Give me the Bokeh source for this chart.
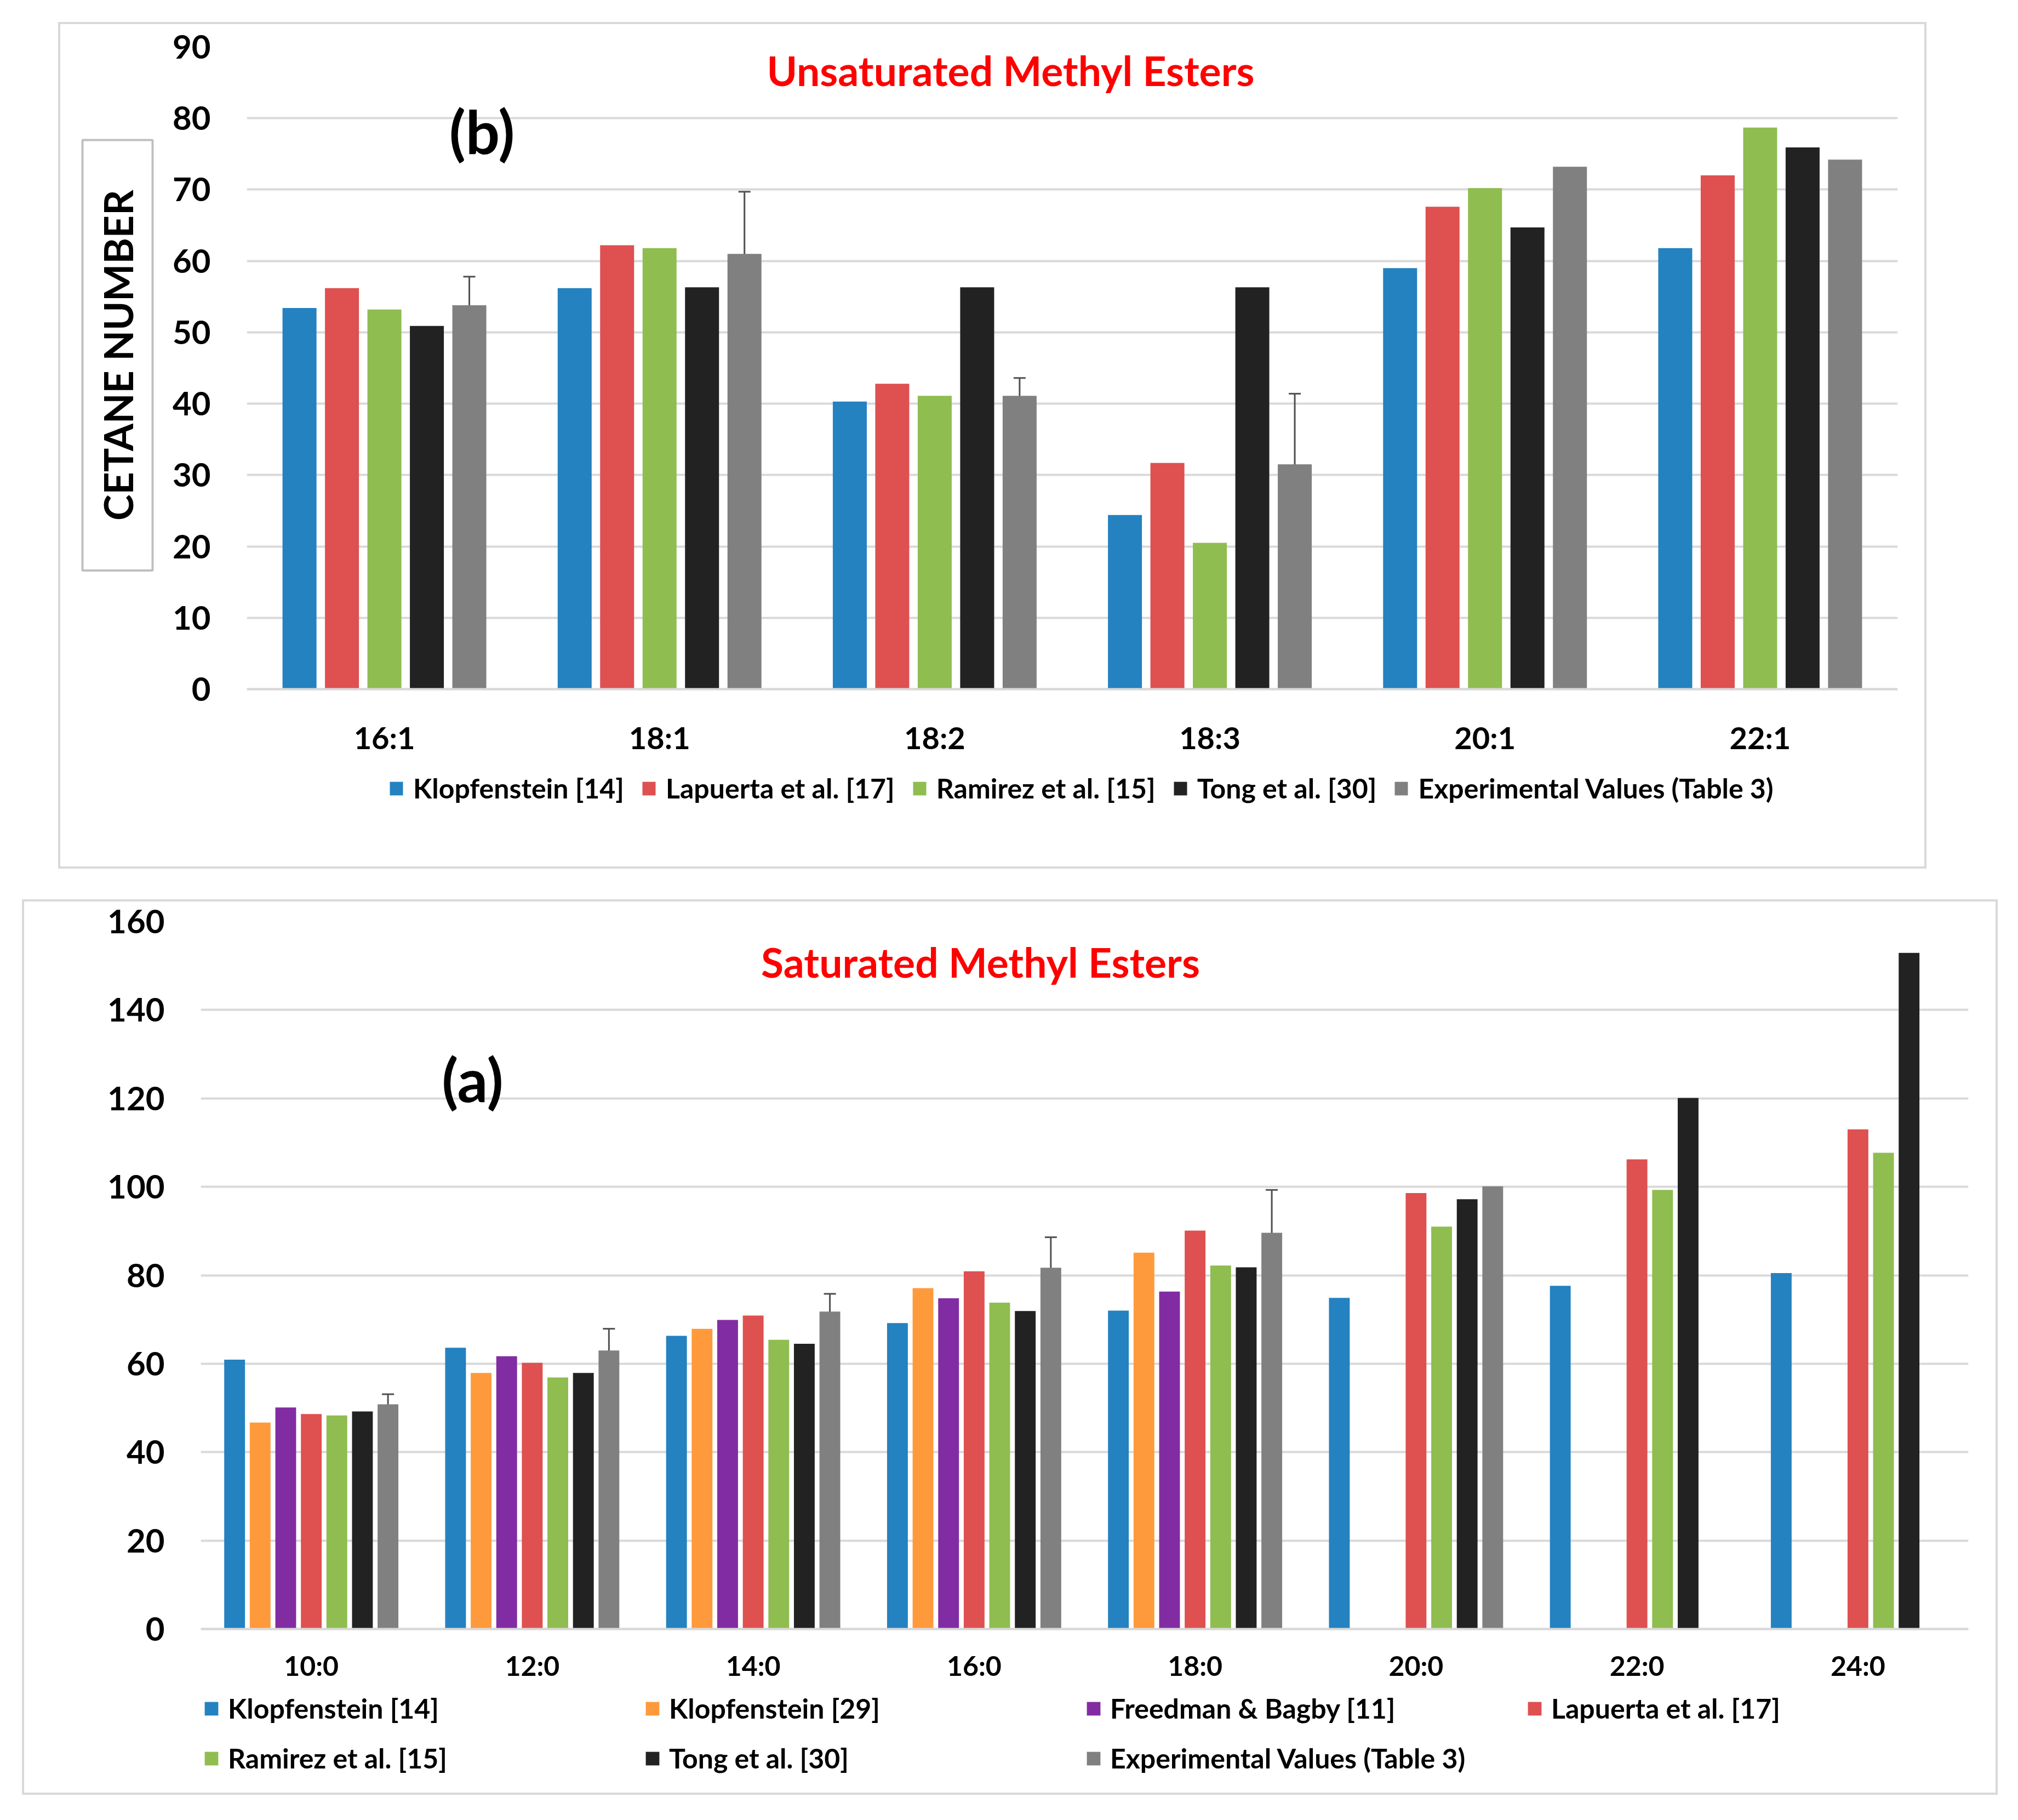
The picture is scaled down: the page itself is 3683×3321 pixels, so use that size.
import math
from bokeh.plotting import figure
from bokeh.models import (FactorRange, Range1d, ColumnDataSource, Whisker, TeeHead,
                          Label, Legend, LegendItem, FixedTicker, Title)
from bokeh.transform import dodge
from bokeh.embed import file_html
from bokeh.resources import INLINE

NaN = float("nan")

# ---------------- data: unsaturated methyl esters (b) ----------------
unsat_categories = ["16:1", "18:1", "18:2", "18:3", "20:1", "22:1"]
unsat_klopfenstein14 = [53.4, 56.2, 40.3, 24.4, 59.0, 61.8]
unsat_lapuerta17 = [56.2, 62.2, 42.8, 31.7, 67.6, 72.0]
unsat_ramirez15 = [53.2, 61.8, 41.1, 20.5, 70.2, 78.7]
unsat_tong30 = [50.9, 56.3, 56.3, 56.3, 64.7, 75.9]
unsat_experimental = [53.8, 61.0, 41.1, 31.5, 73.2, 74.2]
unsat_exp_error = [4.0, 8.7, 2.5, 9.9, NaN, NaN]
unsat_yticks = [0, 10, 20, 30, 40, 50, 60, 70, 80, 90]

# ---------------- data: saturated methyl esters (a) ----------------
sat_categories = ["10:0", "12:0", "14:0", "16:0", "18:0", "20:0", "22:0", "24:0"]
sat_klopfenstein14 = [60.9, 63.6, 66.3, 69.2, 72.0, 74.9, 77.6, 80.5]
sat_klopfenstein29 = [46.7, 57.9, 67.9, 77.1, 85.1, NaN, NaN, NaN]
sat_freedman11 = [50.1, 61.7, 69.9, 74.8, 76.3, NaN, NaN, NaN]
sat_lapuerta17 = [48.6, 60.2, 70.9, 80.9, 90.1, 98.6, 106.2, 113.0]
sat_ramirez15 = [48.3, 56.9, 65.4, 73.8, 82.2, 91.0, 99.3, 107.7]
sat_tong30 = [49.2, 57.9, 64.5, 71.9, 81.8, 97.2, 120.1, 152.9]
sat_experimental = [50.8, 63.0, 71.8, 81.7, 89.6, 100.1, NaN, NaN]
sat_exp_error = [2.3, 4.9, 4.0, 6.9, 9.7, NaN, NaN, NaN]
sat_yticks = [0, 20, 40, 60, 80, 100, 120, 140, 160]

C_BLUE = "#2482c0"
C_ORANGE = "#ff9a3c"
C_PURPLE = "#822ca3"
C_RED = "#df5050"
C_GREEN = "#8fbd50"
C_BLACK = "#222222"
C_GRAY = "#808080"
GRID = "#d9d9d9"
FONT = "Lato"


def base_fig(cats, ymin, ymax, yticks, w, h, mb, xlabel_size, xstandoff):
    p = figure(x_range=FactorRange(*cats, range_padding=0), y_range=Range1d(ymin, ymax),
               width=w, height=h, output_backend="svg", toolbar_location=None,
               min_border_left=mb[0], min_border_right=mb[1], min_border_top=mb[2],
               min_border_bottom=mb[3])
    p.outline_line_color = None
    p.background_fill_color = "white"
    p.border_fill_color = "white"
    p.xgrid.grid_line_color = None
    p.ygrid.grid_line_color = GRID
    p.ygrid.grid_line_width = 4
    p.yaxis.ticker = FixedTicker(ticks=yticks)
    p.yaxis.axis_line_color = None
    p.yaxis.major_tick_line_color = None
    p.yaxis.minor_tick_line_color = None
    p.yaxis.major_label_text_font = FONT
    p.yaxis.major_label_text_font_style = "bold"
    p.yaxis.major_label_text_font_size = "60px"
    p.yaxis.major_label_text_color = "black"
    p.yaxis.major_label_standoff = 60
    # category axis sits on the zero line, inside the frame
    p.xaxis.fixed_location = 0
    p.xaxis.axis_line_color = GRID
    p.xaxis.axis_line_width = 4
    p.xaxis.major_tick_line_color = None
    p.xaxis.minor_tick_line_color = None
    p.xaxis.major_label_text_font = FONT
    p.xaxis.major_label_text_font_style = "bold"
    p.xaxis.major_label_text_font_size = xlabel_size
    p.xaxis.major_label_text_color = "black"
    p.xaxis.major_label_standoff = xstandoff
    return p


def add_bars(p, cats, series, step, width):
    data = {"cat": cats}
    for i, (name, vals, color) in enumerate(series):
        data["s%d" % i] = vals
    src = ColumnDataSource(data)
    n = len(series)
    items = []
    for i, (name, vals, color) in enumerate(series):
        off = (i - (n - 1) / 2.0) * step
        r = p.vbar(x=dodge("cat", off, range=p.x_range), top="s%d" % i, bottom=0,
                   width=width, source=src, fill_color=color, line_color=None)
        items.append(LegendItem(label=name, renderers=[r]))
    return items


def add_errors(p, cats, vals, errs, off):
    idx = [i for i in range(len(cats)) if not math.isnan(errs[i])]
    src = ColumnDataSource({
        "cat": [cats[i] for i in idx],
        "upper": [vals[i] + errs[i] for i in idx],
        "lower": [vals[i] - errs[i] for i in idx],
    })
    w = Whisker(base=dodge("cat", off, range=p.x_range), upper="upper", lower="lower",
                source=src, dimension="height", line_color="#505050", line_width=3,
                upper_head=TeeHead(size=22, line_color="#505050", line_width=3),
                lower_head=TeeHead(size=22, line_color="#505050", line_width=3))
    p.add_layout(w)


def text_label(p, x, y, text, size, color="black", **kw):
    lab = Label(x=x, y=y, x_units="screen", y_units="screen", text=text,
                text_font=FONT, text_font_style="bold", text_font_size=size,
                text_color=color, text_align="center", text_baseline="middle", **kw)
    p.add_layout(lab)


def make_legend(items, **kw):
    return Legend(items=items, orientation="horizontal",
                  padding=0, margin=0, border_line_color=None, background_fill_alpha=0,
                  label_text_font=FONT, label_text_font_style="bold",
                  label_text_font_size="50px", label_text_color="black", **kw)


# ---------------- top panel (b) ----------------
TOP_PX_PER_UNIT = 1172 / 90.0
TOP_ZERO_ABOVE_BOTTOM = 322
p1 = base_fig(unsat_categories, -TOP_ZERO_ABOVE_BOTTOM / TOP_PX_PER_UNIT, 90, unsat_yticks,
              3410, 1545, (340, 57, 41, 10), "56px", 48)
p1.styles = {"border": "4px solid #d9d9d9"}
p1.margin = (40, 0, 0, 106)
top_series = [
    ("Klopfenstein [14]", unsat_klopfenstein14, C_BLUE),
    ("Lapuerta et al. [17]", unsat_lapuerta17, C_RED),
    ("Ramirez et al. [15]", unsat_ramirez15, C_GREEN),
    ("Tong et al. [30]", unsat_tong30, C_BLACK),
    ("Experimental Values (Table 3)", unsat_experimental, C_GRAY),
]
top_step = 0.1543
items1 = add_bars(p1, unsat_categories, top_series, top_step, 0.1235)
add_errors(p1, unsat_categories, unsat_experimental, unsat_exp_error, 2 * top_step)
text_label(p1, 1394, 1130 + TOP_ZERO_ABOVE_BOTTOM, "Unsaturated Methyl Esters", "75px",
           color="#ff0000")
text_label(p1, 429, 1020 + TOP_ZERO_ABOVE_BOTTOM, "(b)", "110px")
PAD = "\u00a0" * 4
ylab = Title(text=PAD + "CETANE NUMBER" + PAD, align="right", offset=170, text_font=FONT,
             text_font_style="bold", text_font_size="72px", text_color="black",
             border_line_color="#bfbfbf", border_line_width=4,
             background_fill_color="white", padding=21, standoff=66)
p1.add_layout(ylab, "left")
leg1 = make_legend(items1, location=(258, 111), glyph_width=30, glyph_height=31,
                   label_standoff=16, spacing=30)
p1.add_layout(leg1, "center")

# ---------------- bottom panel (a) ----------------
BOT_PX_PER_UNIT = 1291 / 160.0
BOT_ZERO_ABOVE_BOTTOM = 297
p2 = base_fig(sat_categories, -BOT_ZERO_ABOVE_BOTTOM / BOT_PX_PER_UNIT, 160, sat_yticks,
              3606, 1634, (322, 58, 36, 10), "50px", 30)
p2.styles = {"border": "4px solid #d9d9d9"}
p2.margin = (56, 0, 0, 40)
bot_series = [
    ("Klopfenstein [14]", sat_klopfenstein14, C_BLUE),
    ("Klopfenstein [29]", sat_klopfenstein29, C_ORANGE),
    ("Freedman & Bagby [11]", sat_freedman11, C_PURPLE),
    ("Lapuerta et al. [17]", sat_lapuerta17, C_RED),
    ("Ramirez et al. [15]", sat_ramirez15, C_GREEN),
    ("Tong et al. [30]", sat_tong30, C_BLACK),
    ("Experimental Values (Table 3)", sat_experimental, C_GRAY),
]
bot_step = 0.1157
items2 = add_bars(p2, sat_categories, bot_series, bot_step, 0.094)
add_errors(p2, sat_categories, sat_experimental, sat_exp_error, 3 * bot_step)
text_label(p2, 1423, 1218 + BOT_ZERO_ABOVE_BOTTOM, "Saturated Methyl Esters", "75px",
           color="#ff0000")
text_label(p2, 496, 1005 + BOT_ZERO_ABOVE_BOTTOM, "(a)", "110px")
leg2 = make_legend(items2, location=(4, 31), ncols=4, glyph_width=31, glyph_height=31,
                   label_standoff=15, spacing=31, label_width=728)
p2.add_layout(leg2, "center")

open("out.html", "w").write(file_html([p1, p2], INLINE))
